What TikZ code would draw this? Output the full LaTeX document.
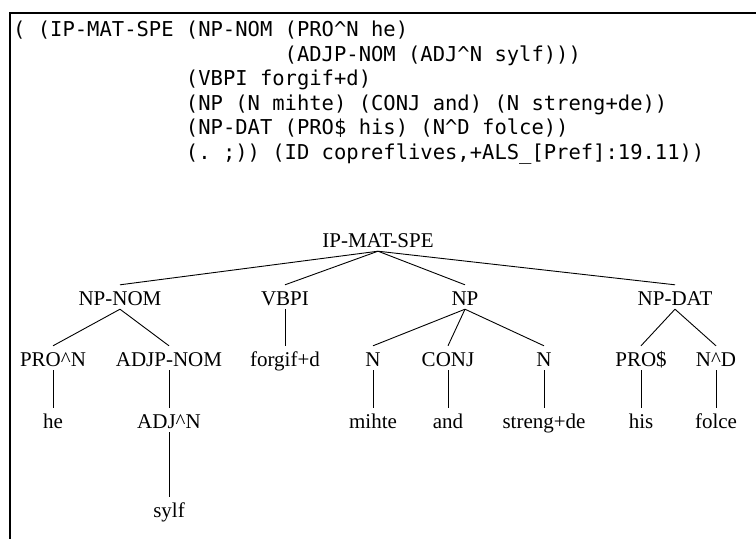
\documentclass[tikz,border=0pt]{standalone}
\usepackage{fontspec}
\setmainfont{Liberation Serif}
\newfontfamily\codefont{DejaVu Sans Mono}
\usetikzlibrary{positioning}

% blank run of n characters in the current (mono) font
\newcommand{\pad}[1]{\hspace*{#1\fontcharwd\font`0}}
\newcommand{\crt}{\textasciicircum}

\begin{document}
\begin{tikzpicture}[
  x=1pt, y=-1pt,
  code/.style={font=\codefont\fontsize{20.5}{24.5}\selectfont\frenchspacing,
               align=left, anchor=north west, inner sep=0pt},
  tag/.style={font=\fontsize{21}{21}\selectfont, anchor=base,
              text height=17pt, text depth=1pt, inner xsep=2pt, inner ysep=3pt},
  edge/.style={line width=0.9pt},
  frame/.style={line width=2pt},
]
\useasboundingbox (0,0) rectangle (756,539);

% ── bracketed source ─────────────────────────────────────────────────────────
\draw[frame] (756,13) -| (10,539);
\node[code] (src) at (13,21)
  {( (IP-MAT-SPE (NP-NOM (PRO\crt N he)\\
   \pad{22}(ADJP-NOM (ADJ\crt N sylf)))\\
   \pad{14}(VBPI forgif+d)\\
   \pad{14}(NP (N mihte) (CONJ and) (N streng+de))\\
   \pad{14}(NP-DAT (PRO\$ his) (N\crt D folce))\\
   \pad{14}(. ;)) (ID copreflives,+ALS\_[Pref]:19.11))};

% ── tree ─────────────────────────────────────────────────────────────────────
\node[tag] (ip) at (378,247) {IP-MAT-SPE};

\node[tag] (npnom) at (120,305) {NP-NOM};
\node[tag] (vbpi)  at (285,305) {VBPI};
\node[tag] (np)    at (465,305) {NP};
\node[tag] (npdat) at (675,305) {NP-DAT};

\node[tag] (pron)    at (53,366)  {PRO\crt N};
\node[tag] (adjp)    at (169,366) {ADJP-NOM};
\node[tag] (forgif)  at (285,366) {forgif+d};
\node[tag] (nmihte)  at (373,366) {N};
\node[tag] (conj)    at (448,366) {CONJ};
\node[tag] (nstreng) at (544,366) {N};
\node[tag] (pros)    at (641,366) {PRO\$};
\node[tag] (nd)      at (716,366) {N\crt D};

\node[tag] (he)     at (53,428)  {he};
\node[tag] (adjn)   at (169,428) {ADJ\crt N};
\node[tag] (mihte)  at (373,428) {mihte};
\node[tag] (and)    at (448,428) {and};
\node[tag] (streng) at (544,428) {streng+de};
\node[tag] (his)    at (641,428) {his};
\node[tag] (folce)  at (716,428) {folce};

\node[tag] (sylf) at (169,517) {sylf};

% ── branches ─────────────────────────────────────────────────────────────────
\draw[edge] (ip.south) -- (npnom.north);
\draw[edge] (ip.south) -- (vbpi.north);
\draw[edge] (ip.south) -- (np.north);
\draw[edge] (ip.south) -- (npdat.north);
\draw[edge] (npnom.south) -- (pron.north);
\draw[edge] (npnom.south) -- (adjp.north);
\draw[edge] (vbpi.south) -- (forgif.north);
\draw[edge] (np.south) -- (nmihte.north);
\draw[edge] (np.south) -- (conj.north);
\draw[edge] (np.south) -- (nstreng.north);
\draw[edge] (npdat.south) -- (pros.north);
\draw[edge] (npdat.south) -- (nd.north);
\draw[edge] (pron.south) -- (he.north);
\draw[edge] (adjp.south) -- (adjn.north);
\draw[edge] (adjn.south) -- (sylf.north);
\draw[edge] (nmihte.south) -- (mihte.north);
\draw[edge] (conj.south) -- (and.north);
\draw[edge] (nstreng.south) -- (streng.north);
\draw[edge] (pros.south) -- (his.north);
\draw[edge] (nd.south) -- (folce.north);

\end{tikzpicture}
\end{document}
